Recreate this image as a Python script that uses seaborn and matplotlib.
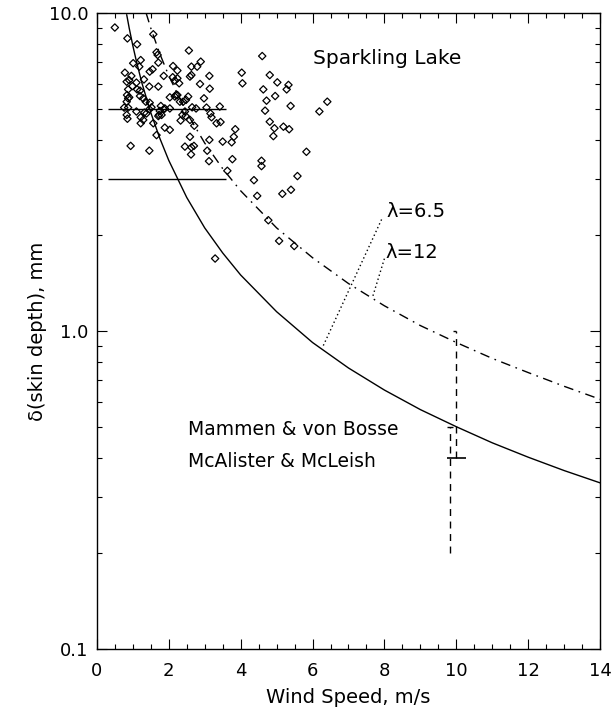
import numpy as np
import matplotlib
matplotlib.use("Agg")
import matplotlib.pyplot as plt
import seaborn as sns
from matplotlib.ticker import FixedLocator, LogLocator, NullFormatter, FixedFormatter

# Sparkling Lake observations (wind speed m/s, skin depth mm)
obs_u = [0.50, 0.85, 1.12, 1.57, 1.66, 1.69, 1.01, 1.22, 1.18, 0.78,
         0.96, 0.90, 0.83, 0.99, 1.10, 0.87, 1.31, 1.47, 1.55, 1.71,
         1.86, 1.71, 2.12, 2.24, 2.11, 2.24, 2.29, 2.20, 2.03, 2.56,
         2.63, 2.79, 2.89, 2.63, 2.87, 3.13, 3.14, 2.98, 2.54, 2.48,
         2.31, 2.65, 2.76, 3.05, 3.42, 3.16, 3.19, 3.33, 3.44, 3.85,
         3.81, 3.75, 3.50, 3.77, 3.63, 3.12, 3.07, 3.13, 2.71, 2.59,
         2.63, 2.45, 2.62, 2.70, 2.47, 2.45, 2.59, 2.33, 2.38, 2.03,
         1.89, 1.78, 1.75, 1.73, 1.80, 1.57, 1.66, 1.89, 2.03, 1.38,
         1.47, 1.52, 1.36, 1.29, 1.20, 0.84, 0.87, 0.83, 0.76, 0.87,
         1.10, 1.22, 1.29, 1.22, 0.83, 0.85, 0.94, 1.46, 4.03, 4.05,
         4.60, 4.81, 5.02, 5.28, 5.33, 4.63, 4.72, 4.96, 4.68, 5.39,
         4.81, 4.94, 4.91, 5.19, 5.35, 6.19, 6.41, 5.83, 4.58, 4.58,
         4.37, 5.58, 4.46, 5.16, 5.40, 4.77, 5.07, 5.49, 3.29, 1.12,
         1.20, 1.46, 0.90, 1.32, 1.46, 2.40, 1.86, 1.71, 2.17, 2.59,
         2.24, 2.17]
obs_delta = [9.00, 8.32, 7.97, 8.57, 7.52, 7.38, 6.95, 7.11, 6.78, 6.49,
             6.34, 6.15, 6.08, 5.89, 6.04, 5.75, 6.18, 6.54, 6.65, 6.98,
             6.34, 5.87, 6.81, 6.59, 6.28, 6.23, 6.01, 5.52, 5.43, 7.62,
             6.78, 6.78, 7.03, 6.38, 5.98, 6.34, 5.78, 5.39, 5.46, 5.33,
             5.26, 5.05, 5.01, 5.04, 5.08, 4.83, 4.70, 4.50, 4.54, 4.31,
             4.08, 3.92, 3.94, 3.47, 3.19, 3.42, 3.69, 3.99, 4.42, 4.08,
             3.78, 3.80, 3.59, 3.82, 4.74, 4.90, 4.61, 4.59, 4.78, 5.01,
             5.01, 5.10, 4.92, 4.78, 4.78, 4.50, 4.13, 4.36, 4.29, 4.83,
             5.22, 5.05, 5.26, 5.39, 5.48, 5.52, 5.39, 5.26, 5.04, 5.04,
             4.90, 4.70, 4.61, 4.50, 4.78, 4.65, 3.82, 3.69, 6.49, 6.01,
             7.32, 6.38, 6.05, 5.75, 5.94, 5.75, 5.30, 5.48, 4.93, 5.10,
             4.55, 4.34, 4.10, 4.39, 4.31, 4.90, 5.26, 3.66, 3.43, 3.30,
             2.98, 3.07, 2.66, 2.70, 2.78, 2.23, 1.92, 1.85, 1.69, 5.75,
             5.70, 5.87, 5.43, 4.86, 4.98, 5.26, 4.98, 4.74, 6.13, 6.31,
             5.52, 5.46]

# skin depth curves
lam65_u = [0.83, 0.9, 1.0, 1.1, 1.25, 1.5, 1.75, 2.0, 2.5, 3.0, 3.5, 4.0,
           5.0, 6.0, 7.0, 8.0, 9.0, 10.0, 11.0, 12.0, 13.0, 14.0]
lam65_d = [9.88, 8.96, 7.90, 7.05, 6.04, 4.86, 4.04, 3.44, 2.63, 2.11, 1.76, 1.50,
           1.15, 0.92, 0.765, 0.652, 0.566, 0.50, 0.445, 0.401, 0.364, 0.333]
lam12_u = [1.37, 1.5, 1.75, 2.0, 2.5, 3.0, 3.5, 4.0, 5.0, 6.0, 7.0, 8.0,
           9.0, 10.0, 11.0, 12.0, 13.0, 14.0]
lam12_d = [10.0, 8.96, 7.45, 6.35, 4.86, 3.90, 3.24, 2.76, 2.11, 1.70, 1.41, 1.20,
           1.04, 0.92, 0.82, 0.74, 0.67, 0.61]

# reference levels on the left
ref_levels = [5.0, 3.0]
ref_u = [0.3, 3.6]

# literature ranges at 10 m/s
mammen_u, mammen_lo, mammen_hi = 9.83, 0.2, 0.5
mcal_u, mcal_lo, mcal_hi = 10.0, 0.4, 1.0

# label leader lines
lead65_u, lead65_d = [6.3, 7.95], [0.90, 2.28]
lead12_u, lead12_d = [7.68, 8.0], [1.29, 1.69]

sns.set_style("ticks")
plt.rcParams["font.family"] = ["DejaVu Sans"]
plt.rcParams.update({
    "text.color": "black", "axes.labelcolor": "black",
    "xtick.color": "black", "ytick.color": "black",
    "xtick.direction": "in", "ytick.direction": "in",
    "xtick.top": True, "ytick.right": True,
    "xtick.major.size": 7, "ytick.major.size": 7,
    "xtick.minor.size": 3.5, "ytick.minor.size": 3.5,
    "xtick.major.width": 0.8, "ytick.major.width": 0.8,
    "xtick.minor.width": 0.8, "ytick.minor.width": 0.8,
    "axes.linewidth": 1.0,
    "axes.edgecolor": "black",
})

fig = plt.figure(figsize=(6.13, 7.09), dpi=100)
ax = fig.add_axes([0.158, 0.0846, 0.821, 0.8971])

sns.scatterplot(x=obs_u, y=obs_delta, marker="D", s=14, facecolor="none",
                edgecolor="black", linewidth=0.9, ax=ax, zorder=3)
sns.lineplot(x=lam65_u, y=lam65_d, color="black", lw=1.0, estimator=None, ax=ax)
sns.lineplot(x=lam12_u, y=lam12_d, color="black", lw=1.0, estimator=None,
             linestyle=(0, (7, 4, 1.2, 4)), ax=ax)
sns.lineplot(x=lead65_u, y=lead65_d, color="black", lw=1.0, estimator=None,
             linestyle=(0, (1, 2)), ax=ax)
sns.lineplot(x=lead12_u, y=lead12_d, color="black", lw=1.0, estimator=None,
             linestyle=(0, (1, 2)), ax=ax)

ax.hlines(ref_levels, ref_u[0], ref_u[1], color="black", lw=1.0)

ax.vlines(mammen_u, mammen_lo, mammen_hi, color="black", lw=1.0, linestyles=(0, (5, 4)))
ax.hlines(mammen_hi, mammen_u - 0.08, mammen_u + 0.08, color="black", lw=1.0)
ax.vlines(mcal_u, mcal_lo, mcal_hi, color="black", lw=1.0, linestyles=(0, (5, 4)))
ax.hlines(mcal_lo, mcal_u - 0.26, mcal_u + 0.28, color="black", lw=1.2)
ax.hlines(mcal_hi, mcal_u - 0.08, mcal_u, color="black", lw=1.0)

ax.set_yscale("log")
ax.set_xlim(0, 14)
ax.set_ylim(0.1, 10.0)

ax.xaxis.set_major_locator(FixedLocator([0, 2, 4, 6, 8, 10, 12, 14]))
ax.xaxis.set_minor_locator(FixedLocator(np.arange(0, 14.01, 0.5)))
ax.yaxis.set_major_locator(FixedLocator([0.1, 1.0, 10.0]))
ax.yaxis.set_major_formatter(FixedFormatter(["0.1", "1.0", "10.0"]))
ax.yaxis.set_minor_locator(LogLocator(base=10, subs=np.arange(2, 10)))
ax.yaxis.set_minor_formatter(NullFormatter())
ax.tick_params(axis="x", which="major", pad=9, labelsize=13)
ax.tick_params(axis="y", which="major", pad=6, labelsize=13)

ax.set_xlabel("Wind Speed, m/s", fontsize=14, labelpad=6)
ax.set_ylabel("δ(skin depth), mm", fontsize=14)
ax.yaxis.set_label_coords(-0.10, 0.5)

ax.text(6.0, 7.2, "Sparkling Lake", fontsize=14.5, va="center", ha="left")
ax.text(8.05, 2.38, "λ=6.5", fontsize=14, va="center", ha="left")
ax.text(8.02, 1.77, "λ=12", fontsize=14, va="center", ha="left")
ax.text(2.53, 0.49, "Mammen & von Bosse", fontsize=13.5, va="center", ha="left")
ax.text(2.53, 0.39, "McAlister & McLeish", fontsize=13.5, va="center", ha="left")

fig.savefig("out.png", dpi=100)
